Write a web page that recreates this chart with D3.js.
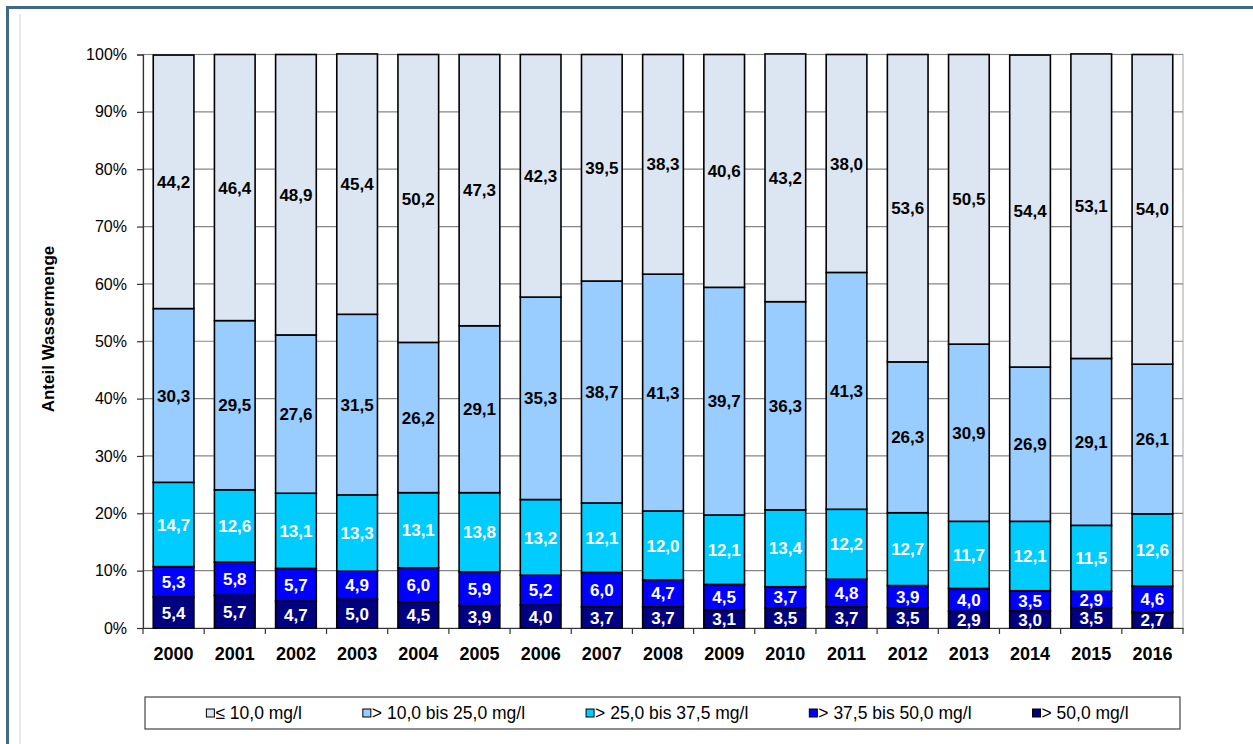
<!DOCTYPE html>
<html>
<head>
<meta charset="utf-8">
<script src="https://cdn.jsdelivr.net/npm/d3@7"></script>
<style>
  body { margin: 0; background: #fff; }
  svg { display: block; font-family: Arial, "Liberation Sans", sans-serif; }
</style>
</head>
<body>
<div id="chart"></div>
<script>
// Years on the x axis
const years = ["2000", "2001", "2002", "2003", "2004", "2005", "2006", "2007", "2008",
  "2009", "2010", "2011", "2012", "2013", "2014", "2015", "2016"];

// Series names (legend order, top of stack first)
const seriesNames = ["≤ 10,0 mg/l", "> 10,0 bis 25,0 mg/l", "> 25,0 bis 37,5 mg/l",
  "> 37,5 bis 50,0 mg/l", "> 50,0 mg/l"];

// Share of water volume in % per class
const le10 = [44.2, 46.4, 48.9, 45.4, 50.2, 47.3, 42.3, 39.5, 38.3, 40.6, 43.2, 38.0, 53.6, 50.5, 54.4, 53.1, 54.0];
const from10to25 = [30.3, 29.5, 27.6, 31.5, 26.2, 29.1, 35.3, 38.7, 41.3, 39.7, 36.3, 41.3, 26.3, 30.9, 26.9, 29.1, 26.1];
const from25to375 = [14.7, 12.6, 13.1, 13.3, 13.1, 13.8, 13.2, 12.1, 12.0, 12.1, 13.4, 12.2, 12.7, 11.7, 12.1, 11.5, 12.6];
const from375to50 = [5.3, 5.8, 5.7, 4.9, 6.0, 5.9, 5.2, 6.0, 4.7, 4.5, 3.7, 4.8, 3.9, 4.0, 3.5, 2.9, 4.6];
const gt50 = [5.4, 5.7, 4.7, 5.0, 4.5, 3.9, 4.0, 3.7, 3.7, 3.1, 3.5, 3.7, 3.5, 2.9, 3.0, 3.5, 2.7];

// Y tick values
const yTicks = [0, 10, 20, 30, 40, 50, 60, 70, 80, 90, 100];

const seriesValues = [le10, from10to25, from25to375, from375to50, gt50];
const colors = ["#dce6f2", "#99ccff", "#00ccff", "#0000ff", "#000080"];
const labelColors = ["#000", "#000", "#fff", "#fff", "#fff"];

const W = 1253, H = 744;
const margin = { top: 54.5, right: 70, bottom: 116, left: 143 };
const width = W - margin.left - margin.right;
const height = H - margin.top - margin.bottom;

const svg = d3.select("#chart")
  .append("svg")
  .attr("width", W)
  .attr("height", H);

// Outer frame (only top/left edges visible)
svg.append("rect")
  .attr("x", 7.5).attr("y", 7.5)
  .attr("width", W + 20).attr("height", H + 20)
  .attr("fill", "none")
  .attr("stroke", "#3f6a85")
  .attr("stroke-width", 3);

svg.append("line")
  .attr("x1", 20).attr("x2", 20)
  .attr("y1", 14).attr("y2", H)
  .attr("stroke", "#d4d4d4")
  .attr("stroke-width", 1);

const g = svg.append("g")
  .attr("transform", `translate(${margin.left}, ${margin.top})`);

// Build the stacked table, bottom series first
const table = years.map((year, i) => {
  const row = { year };
  seriesNames.forEach((name, s) => { row[name] = seriesValues[s][i]; });
  return row;
});
const stack = d3.stack().keys(seriesNames.slice().reverse())(table);

// Scales
const x = d3.scaleBand()
  .domain(years)
  .range([0, width])
  .paddingInner(0.335)
  .paddingOuter(0.1675);

const y = d3.scaleLinear()
  .domain([0, 100])
  .range([height, 0]);

// Plot area border
g.append("rect")
  .attr("x", 0).attr("y", 0)
  .attr("width", width).attr("height", height)
  .attr("fill", "none")
  .attr("stroke", "#b4b4b4")
  .attr("stroke-width", 1.2);

// Gridlines
g.selectAll(".grid")
  .data(yTicks.filter(d => d > 0))
  .enter()
  .append("line")
  .attr("class", "grid")
  .attr("x1", 0).attr("x2", width)
  .attr("y1", d => y(d)).attr("y2", d => y(d))
  .attr("stroke", "#868686")
  .attr("stroke-width", 1.2);

// Y axis
const yAxis = g.append("g")
  .call(d3.axisLeft(y).tickValues(yTicks).tickSize(6).tickPadding(10).tickFormat(d => d + "%"));
yAxis.select(".domain").attr("stroke", "#333").attr("stroke-width", 1.2);
yAxis.selectAll(".tick line").attr("stroke", "#333").attr("stroke-width", 1.2);
yAxis.selectAll("text").style("font-size", "16px").attr("fill", "#000");

// X axis
const xAxis = g.append("g")
  .attr("transform", `translate(0, ${height})`)
  .call(d3.axisBottom(x).tickSize(0).tickPadding(19));
xAxis.select(".domain").attr("stroke", "#333").attr("stroke-width", 1.2);
xAxis.selectAll("text").style("font-size", "18px").style("font-weight", "bold").attr("fill", "#000");

// X ticks between the categories
const boundaries = years.map(d => x(d) - (x.step() - x.bandwidth()) / 2).concat([width]);
xAxis.selectAll(".boundary")
  .data(boundaries)
  .enter()
  .append("line")
  .attr("class", "boundary")
  .attr("x1", d => d).attr("x2", d => d)
  .attr("y1", 0).attr("y2", 6)
  .attr("stroke", "#333")
  .attr("stroke-width", 1.2);

// Bars
const layers = g.selectAll(".layer")
  .data(stack)
  .enter()
  .append("g")
  .attr("class", "layer")
  .attr("fill", d => colors[seriesNames.indexOf(d.key)]);

layers.selectAll("rect")
  .data(d => d)
  .enter()
  .append("rect")
  .attr("x", d => x(d.data.year))
  .attr("y", d => y(d[1]))
  .attr("width", x.bandwidth())
  .attr("height", d => y(d[0]) - y(d[1]))
  .attr("stroke", "#000")
  .attr("stroke-width", 1.6);

// Value labels
stack.forEach(layer => {
  const s = seriesNames.indexOf(layer.key);
  g.selectAll(".lbl" + s)
    .data(layer)
    .enter()
    .append("text")
    .attr("x", d => x(d.data.year) + x.bandwidth() / 2)
    .attr("y", d => (y(d[0]) + y(d[1])) / 2)
    .attr("dy", "0.36em")
    .attr("text-anchor", "middle")
    .style("font-size", "17px")
    .style("font-weight", "bold")
    .attr("fill", labelColors[s])
    .text(d => (d[1] - d[0]).toFixed(1).replace(".", ","));
});

// Y axis title
svg.append("text")
  .attr("transform", "translate(54, 329) rotate(-90)")
  .attr("text-anchor", "middle")
  .style("font-size", "17px")
  .style("font-weight", "bold")
  .text("Anteil Wassermenge");

// Legend
const legendBox = { x: 145, y: 697, w: 1035, h: 32 };
svg.append("rect")
  .attr("x", legendBox.x).attr("y", legendBox.y)
  .attr("width", legendBox.w).attr("height", legendBox.h)
  .attr("fill", "#fff")
  .attr("stroke", "#444")
  .attr("stroke-width", 1.2);

const legend = svg.append("g");
const items = legend.selectAll(".item")
  .data(seriesNames)
  .enter()
  .append("g")
  .attr("class", "item");

items.append("rect")
  .attr("x", 0).attr("y", -4)
  .attr("width", 8).attr("height", 8)
  .attr("fill", (d, i) => colors[i])
  .attr("stroke", "#000")
  .attr("stroke-width", 1);

items.append("text")
  .attr("x", 9)
  .attr("dy", "0.36em")
  .style("font-size", "17.5px")
  .text(d => d);

// Place the legend items with even gaps, centred in the box
const gap = 61;
let pos = 0;
const offsets = [];
items.each(function () {
  offsets.push(pos);
  pos += this.getBBox().width + gap;
});
const total = pos - gap;
const startX = legendBox.x + (legendBox.w - total) / 2 + 5;
items.attr("transform", (d, i) => `translate(${startX + offsets[i]}, ${legendBox.y + legendBox.h / 2})`);
</script>
</body>
</html>
